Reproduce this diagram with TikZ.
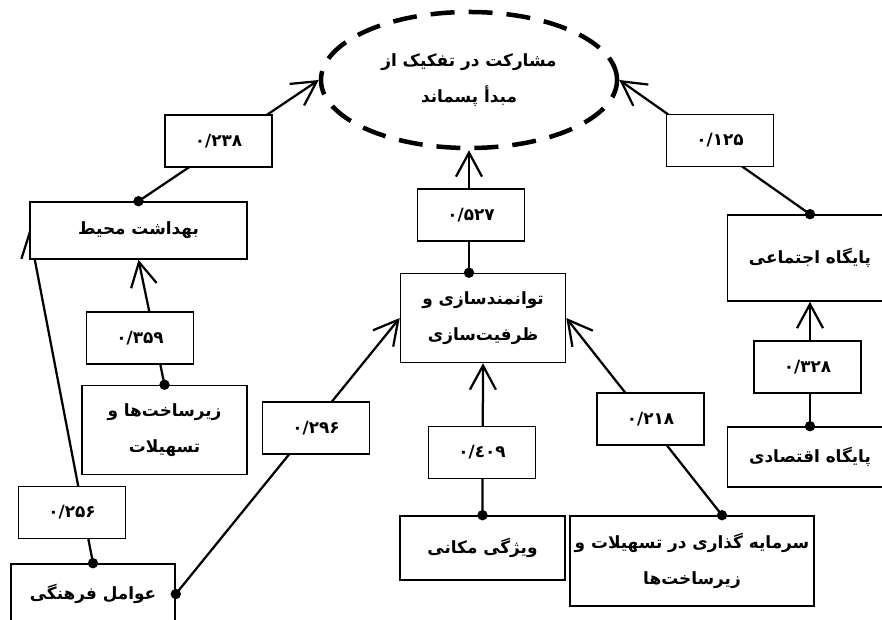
\documentclass[tikz,border=0pt]{standalone}
\usepackage{fontspec}
\newfontfamily\fafont[Script=Arabic]{DejaVu Sans}
\newcommand{\fastyle}{\fafont\bfseries\fontsize{12}{26}\selectfont}
\newcommand{\rtlline}[1]{\beginR #1\endR}
\TeXXeTstate=1
\usepackage{tikz}
\usetikzlibrary{positioning, shapes.geometric, arrows.meta, calc, backgrounds}

\begin{document}
\begin{tikzpicture}[x=0.025cm, y=-0.025cm,
    box/.style={draw, line width=1.1pt, fill=white, align=center, minimum width=4.125cm, font=\fastyle},
    weight/.style={draw, line width=1.1pt, fill=white, minimum width=2.675cm, minimum height=1.3cm, font=\fastyle},
    arrow/.style={-{Straight Barb[length=0.6cm, width=0.65cm]}, line width=1.6pt},
    goalshape/.style={ellipse, draw, line width=3.2pt, dash pattern=on 0.6cm off 0.35cm, minimum width=7.4cm, minimum height=3.4cm, align=center, font=\fastyle}
]
\useasboundingbox (0,0) rectangle (882,619);
\clip (0,0) rectangle (882,619);

% Goal
\node[goalshape] (goal) at (469,80) {\rtlline{مشارکت در تفکیک از}\\ \rtlline{مبدأ پسماند}};

% Factors
\node[box, minimum width=5.425cm, minimum height=1.425cm] (health) at (138.5,230.5) {\rtlline{بهداشت محیط}};
\node[box, minimum height=2.225cm] (infra) at (164.5,430) {\rtlline{زیرساخت‌ها و}\\ \rtlline{تسهیلات}};
\node[box, minimum width=4.1cm, minimum height=1.5cm] (culture) at (93,594) {\rtlline{عوامل فرهنگی}};
\node[box, minimum height=2.225cm] (capacity) at (483,318) {\rtlline{توانمندسازی و}\\ \rtlline{ظرفیت‌سازی}};
\node[box, minimum height=1.6cm] (place) at (482.5,548) {\rtlline{ویژگی مکانی}};
\node[box, minimum width=5.9cm, minimum height=2.25cm] (invest) at (692,561) {\rtlline{سرمایه گذاری در تسهیلات و}\\ \rtlline{زیرساخت‌ها}};
\node[box, minimum height=2.15cm] (social) at (810,258) {\rtlline{پایگاه اجتماعی}};
\node[box, minimum height=1.5cm] (econ) at (810,457) {\rtlline{پایگاه اقتصادی}};

\coordinate (capdot) at (capacity.north -| goal.south);
\coordinate (investdot) at ([xshift=0.75cm]invest.north);

% Coefficients
\node[weight] (w238) at (218.5,141) {۰/۲۳۸};
\node[weight] (w359) at (140,338) {۰/۳۵۹};
\node[weight] (w256) at (72,512.5) {۰/۲۵۶};
\node[weight] (w296) at (316,428) {۰/۲۹۶};
\node[weight] (w527) at (471,215) {۰/۵۲۷};
\node[weight] (w409) at (482,452.5) {\mbox{۰}\mbox{/}\mbox{٤}\mbox{۰۹}};
\node[weight] (w218) at (650.5,419) {۰/۲۱۸};
\node[weight] (w125) at (720,140.5) {۰/۱۲۵};
\node[weight] (w328) at (807.5,367) {۰/۳۲۸};

% Paths
\begin{scope}[on background layer]
\draw[arrow] (health.north) -- (goal.west);
\draw[arrow] (infra.north) -- (health.south);
\draw[arrow] (culture.north) -- (health.west);
\draw[arrow] (culture.east) -- (capacity.west);
\draw[arrow] (capdot) -- (goal.south);
\draw[arrow] (place.north) -- (capacity.south);
\draw[arrow] (investdot) -- (capacity.east);
\draw[arrow] (social.north) -- (goal.east);
\draw[arrow] (econ.north) -- (social.south);
\end{scope}

\foreach \p in {health.north, infra.north, culture.north, culture.east, capdot, place.north, investdot, social.north, econ.north}
  \fill (\p) circle (0.13cm);

\end{tikzpicture}
\end{document}
